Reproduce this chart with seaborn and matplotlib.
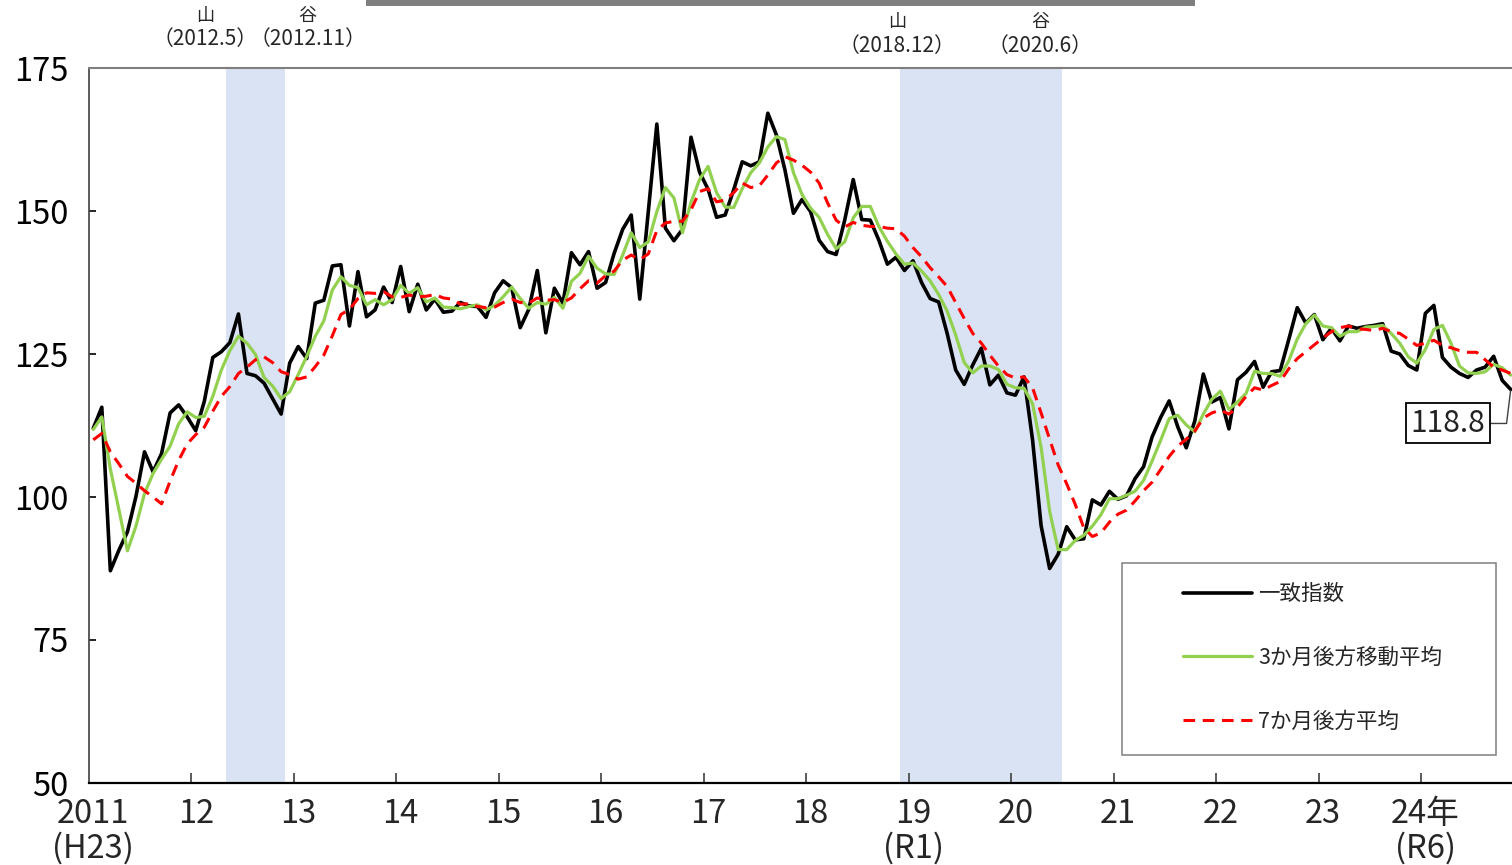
import matplotlib

matplotlib.use("Agg")
import matplotlib.pyplot as plt
from matplotlib.patches import Rectangle
import numpy as np
import pandas as pd
import seaborn as sns

# ---------------------------------------------------------------------------
# データ (2011年1月〜2024年11月, 月次)
# ---------------------------------------------------------------------------

START_MONTH = "2011-01"

coincident = [
    112.0, 115.7, 87.1, 90.7, 93.9, 100.1, 107.9, 104.4, 107.6, 114.7, 116.1, 114.0,
    111.6, 116.7, 124.4, 125.4, 127.0, 132.0, 121.6, 121.2, 119.9, 117.2, 114.5, 123.4,
    126.3, 124.2, 133.9, 134.4, 140.4, 140.6, 129.9, 139.4, 131.5, 132.7, 136.7, 134.0,
    140.3, 132.4, 137.2, 132.7, 134.6, 132.3, 132.5, 134.0, 133.4, 133.3, 131.4, 135.7,
    137.8, 136.6, 129.6, 132.8, 139.6, 128.7, 136.5, 133.9, 142.7, 140.6, 142.9, 136.5,
    137.5, 142.6, 146.8, 149.3, 134.6, 150.0, 165.2, 147.0, 144.8, 146.8, 162.9, 156.8,
    153.8, 148.9, 149.3, 153.7, 158.6, 157.9, 158.6, 167.1, 163.3, 157.2, 149.6, 152.0,
    149.9, 144.9, 142.9, 142.4, 148.4, 155.5, 148.5, 148.4, 144.9, 140.7, 141.9, 139.6,
    141.3, 137.5, 134.7, 134.1, 128.6, 122.2, 119.7, 123.1, 126.0, 119.6, 121.3, 118.2,
    117.8, 121.0, 110.0, 95.0, 87.5, 90.0, 94.8, 92.5, 92.7, 99.5, 98.6, 101.0,
    99.6, 100.2, 103.2, 105.3, 110.5, 113.9, 116.8, 112.3, 108.6, 113.3, 121.5, 116.6,
    117.4, 111.9, 120.5, 121.8, 123.7, 119.2, 121.9, 122.1, 127.5, 133.1, 130.4, 131.9,
    127.5, 129.5, 127.3, 129.9, 129.5, 129.8, 130.0, 130.3, 125.5, 125.0, 123.0, 122.2,
    132.1, 133.5, 124.4, 122.7, 121.6, 120.9, 122.2, 122.7, 124.6, 120.4, 118.8,
]

ma3 = [
    111.8, 114.0, 104.9, 97.8, 90.6, 94.9, 100.6, 104.1, 106.6, 108.9, 112.8, 114.9,
    113.9, 114.1, 117.6, 122.2, 125.6, 128.1, 126.9, 124.9, 120.9, 119.4, 117.2, 118.4,
    121.4, 124.6, 128.1, 130.8, 136.2, 138.5, 137.0, 136.6, 133.6, 134.5, 133.6, 134.5,
    137.0, 135.6, 136.6, 134.1, 134.8, 133.2, 133.1, 132.9, 133.3, 133.6, 132.7, 133.5,
    135.0, 136.7, 134.7, 133.0, 134.0, 133.7, 134.9, 133.0, 137.7, 139.1, 142.1, 140.0,
    139.0, 138.9, 142.3, 146.2, 143.6, 144.6, 149.9, 154.1, 152.3, 146.2, 151.5, 155.5,
    157.8, 153.2, 150.7, 150.6, 153.9, 156.7, 158.4, 161.2, 163.0, 162.5, 156.7, 152.9,
    150.5, 148.9, 145.9, 143.4, 144.6, 148.8, 150.8, 150.8, 147.3, 144.7, 142.5, 140.7,
    140.9, 139.5, 137.8, 135.4, 132.5, 128.3, 123.5, 121.7, 122.9, 122.9, 122.3, 119.7,
    119.1, 119.0, 116.3, 108.7, 97.5, 90.8, 90.8, 92.4, 93.3, 94.9, 96.9, 99.7,
    99.7, 100.3, 101.0, 102.9, 106.3, 109.9, 113.7, 114.3, 112.6, 111.4, 114.5, 117.1,
    118.5, 115.3, 116.6, 118.1, 122.0, 121.6, 121.6, 121.1, 123.8, 127.6, 130.3, 131.8,
    129.9, 129.6, 128.1, 128.9, 128.9, 129.7, 129.8, 130.0, 128.6, 126.9, 124.5, 123.4,
    125.8, 129.3, 130.0, 126.9, 122.9, 121.7, 121.6, 121.9, 123.2, 122.6, 121.3,
]

ma7 = [
    110.0, 111.1, 107.9, 105.8, 103.6, 102.4, 101.1, 100.0, 98.8, 102.8, 106.4, 109.3,
    110.9, 112.2, 115.0, 117.6, 119.3, 121.6, 122.7, 124.0, 124.5, 123.5, 121.9, 121.4,
    120.6, 121.0, 122.8, 124.8, 128.2, 131.9, 132.8, 134.7, 135.7, 135.6, 135.9, 135.0,
    134.9, 135.3, 135.0, 135.1, 135.4, 134.8, 134.6, 133.7, 133.8, 133.3, 133.1, 133.2,
    134.0, 134.6, 134.0, 133.9, 134.8, 134.4, 134.5, 134.0, 134.8, 136.4, 137.8, 137.4,
    138.7, 139.5, 141.4, 142.3, 141.5, 142.5, 146.6, 147.9, 148.2, 148.2, 150.2, 153.4,
    153.9, 151.6, 151.9, 153.2, 154.9, 154.1, 154.4, 156.3, 158.4, 159.5, 158.9, 158.0,
    156.8, 154.9, 151.4, 148.4, 147.2, 148.0, 147.5, 147.3, 147.3, 147.0, 146.9, 145.6,
    143.6, 142.0, 140.1, 138.5, 136.8, 134.0, 131.2, 128.6, 126.9, 124.8, 122.9, 121.4,
    120.8, 121.0, 119.1, 114.7, 110.1, 105.6, 102.3, 98.7, 94.6, 93.1, 93.7, 95.6,
    97.0, 97.7, 99.3, 101.1, 102.6, 104.8, 107.1, 108.9, 110.1, 111.5, 113.8, 114.7,
    115.2, 114.5, 115.7, 117.6, 119.1, 118.7, 119.5, 120.2, 122.4, 124.2, 125.4, 126.6,
    127.8, 128.9, 129.6, 129.9, 129.4, 129.3, 129.1, 129.5, 128.9, 128.6, 127.6, 126.5,
    126.9, 127.4, 126.5, 126.1, 125.6, 125.3, 125.3, 124.0, 122.7, 122.2, 121.6,
]

series_labels = ["一致指数", "3か月後方移動平均", "7か月後方平均"]

year_labels = [
    "2011\n(H23)", "12", "13", "14", "15", "16", "17", "18",
    "19\n(R1)", "20", "21", "22", "23", "24年\n(R6)",
]

# 景気の山・谷 (start, end) と注記
recessions = [("2012-05", "2012-11"), ("2018-12", "2020-06")]
turning_points = [
    ("山", "（2012.5）"), ("谷", "（2012.11）"),
    ("山", "（2018.12）"), ("谷", "（2020.6）"),
]

# ---------------------------------------------------------------------------
# 描画
# ---------------------------------------------------------------------------

months = pd.period_range(START_MONTH, periods=len(coincident), freq="M")
df = pd.DataFrame({
    "pos": np.arange(len(months)) + 0.5,
    "coincident": coincident,
    "ma3": ma3,
    "ma7": ma7,
})

sns.set_theme(style="white")
plt.rcParams["font.family"] = ["Noto Sans CJK JP", "DejaVu Sans"]

fig = plt.figure(figsize=(15.12, 8.65), dpi=100)
ax = fig.add_axes([89 / 1512, 82 / 865, 1426 / 1512, 715 / 865])

for start, end in recessions:
    x0 = months.get_loc(pd.Period(start, freq="M"))
    x1 = months.get_loc(pd.Period(end, freq="M")) + 1
    ax.axvspan(x0, x1, color="#DAE3F3", lw=0, zorder=0)

sns.lineplot(data=df, x="pos", y="coincident", color="black", lw=2.6, ax=ax,
             label=series_labels[0])
sns.lineplot(data=df, x="pos", y="ma3", color="#92D050", lw=2.3, ax=ax,
             label=series_labels[1])
sns.lineplot(data=df, x="pos", y="ma7", color="#FF0000", lw=2.2, ax=ax,
             label=series_labels[2])
ax.lines[2].set_dashes((3.8, 2.5))

ax.set_xlim(0, len(months))
ax.set_ylim(50, 175)
ax.set_xlabel("")
ax.set_ylabel("")

# 軸
ax.set_yticks(np.arange(50, 176, 25))
ax.tick_params(axis="y", direction="in", length=5, width=1.2, pad=15,
               labelsize=23.5, colors="black", left=True)
year_starts = [i for i, m in enumerate(months) if m.month == 1]
ax.set_xticks(year_starts[1:])
ax.set_xticklabels([])
ax.set_xticks([i + 0.5 for i in year_starts], year_labels, minor=True)
ax.tick_params(axis="x", which="major", direction="in", length=7, width=1.2,
               bottom=True, color="#404040")
ax.tick_params(axis="x", which="minor", length=0, pad=11, labelsize=23.5)
for lab in ax.get_xticklabels(minor=True):
    lab.set_linespacing(1.07)

ax.spines["left"].set_color("#404040")
ax.spines["left"].set_linewidth(1.2)
ax.spines["top"].set_color("#7F7F7F")
ax.spines["top"].set_linewidth(1.5)
ax.spines["right"].set_color("#7F7F7F")
ax.spines["bottom"].set_color("black")
ax.spines["bottom"].set_linewidth(1.6)

# 凡例
ax.add_patch(Rectangle((0.7244, 0.0392), 0.2623, 0.2685, transform=ax.transAxes,
                       facecolor="white", edgecolor="#7F7F7F", lw=1.1, zorder=4))
leg = ax.legend(handles=ax.lines[:3], labels=series_labels, loc="center left",
                bbox_to_anchor=(0.7672, 0.1748), frameon=False, fontsize=15.5,
                handlelength=3.2, handletextpad=0.3, labelspacing=1.95,
                borderpad=0, borderaxespad=0)
leg.set_zorder(5)

# 最新値
ax.annotate(f"{coincident[-1]:.1f}", xy=(df["pos"].iloc[-1], coincident[-1]),
            xytext=(-63, -34), textcoords="offset pixels", ha="center", va="center",
            fontsize=21.5, color="#222222",
            bbox=dict(boxstyle="square,pad=0.15", fc="white", ec="black", lw=1.3),
            arrowprops=dict(arrowstyle="-", color="#404040", lw=1,
                            connectionstyle="angle,angleA=0,angleB=83",
                            shrinkA=0, shrinkB=1),
            zorder=6)

# 山・谷の注記 (x: データ座標, y: 軸座標)
label_x = [13.6, 25.6, 94.6, 111.4]
label_dy = [0.0, 0.0, -0.009, -0.009]
xform = ax.get_xaxis_transform()
for (kind, date), lx, dy in zip(turning_points, label_x, label_dy):
    ax.text(lx, 1.073 + dy, kind, transform=xform, ha="center", va="center",
            fontsize=13, clip_on=False)
    ax.text(lx, 1.040 + dy, date, transform=xform, ha="center", va="center",
            fontsize=15, clip_on=False)

# 上部のグレー帯
fig.add_artist(Rectangle((366 / 1512, 1 - 6 / 865), (1195 - 366) / 1512, 6 / 865,
                         transform=fig.transFigure, color="#7F7F7F", lw=0))

fig.savefig("out.png", dpi=100, facecolor="white")
